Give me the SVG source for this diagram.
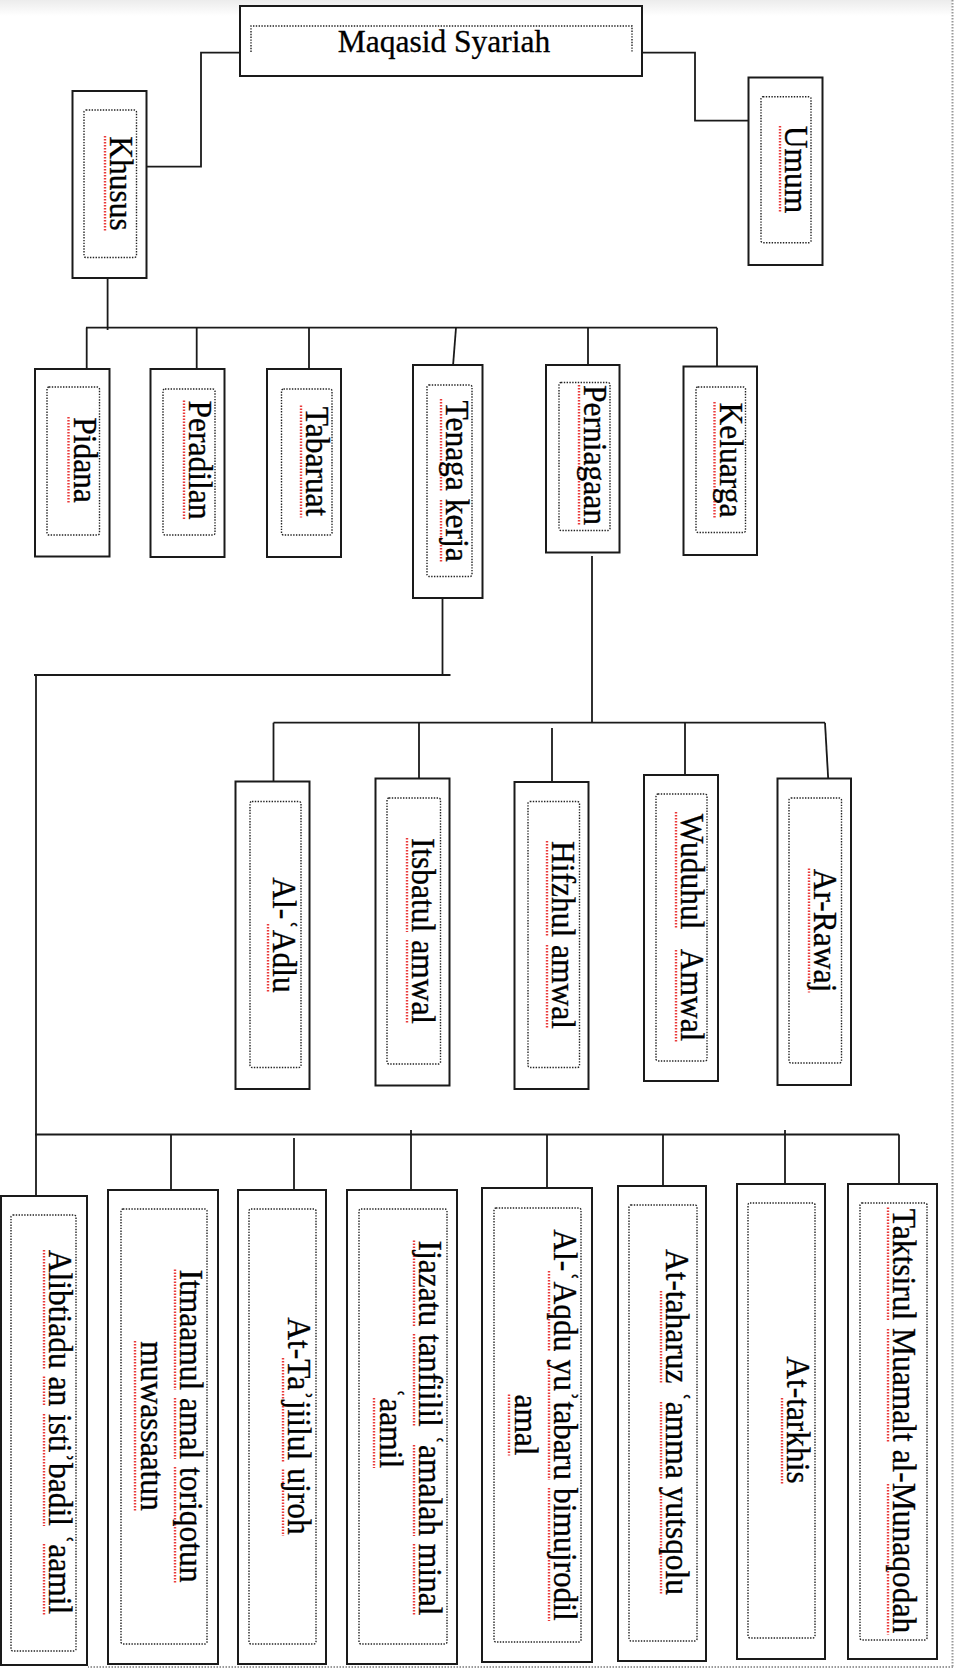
<svg xmlns="http://www.w3.org/2000/svg" width="964" height="1669" viewBox="0 0 964 1669">
<style>
.box{fill:#fff;stroke:#1a1a1a;stroke-width:2}
.inner{fill:none;stroke:#222;stroke-width:1.4;stroke-dasharray:1.4 1.4}
.lbl{font-family:"Liberation Serif","Times New Roman",serif;font-size:31.5px;fill:#000;stroke:#000;stroke-width:0.3}
.v{text-anchor:middle}
.conn{fill:none;stroke:#1a1a1a;stroke-width:1.8}
.page{fill:none;stroke:#999;stroke-width:2;stroke-dasharray:1.5 1.5}
.sq{fill:none;stroke:#ea3b3b;stroke-width:2.4;stroke-dasharray:1.6 1.4}
</style>
<defs>
<linearGradient id="topShade" x1="0" y1="0" x2="0" y2="1">
<stop offset="0" stop-color="#ececec"/>
<stop offset="1" stop-color="#ffffff"/>
</linearGradient>
</defs>
<rect x="0" y="0" width="964" height="1669" fill="#fff"/>
<rect x="0" y="0" width="952" height="16" fill="url(#topShade)"/>
<g id="page-border">
<path class="page" d="M952.5,0 V1667 M953,1667 H88"/>
</g>
<g id="connectors">
<path class="conn" d="M259,52.7 H201 V166.7 H146.5"/>
<path class="conn" d="M642,52.7 H695 V120.7 H748.5"/>
<path class="conn" d="M107.6,278 V330"/>
<path class="conn" d="M86,327.7 H717"/>
<path class="conn" d="M86.7,327.7 V369"/>
<path class="conn" d="M196.7,327.7 V369"/>
<path class="conn" d="M309,327.7 V369"/>
<path class="conn" d="M456,327.7 L453,366"/>
<path class="conn" d="M588,327.7 V365"/>
<path class="conn" d="M717,327.7 V366.5"/>
<path class="conn" d="M442.5,598 V675"/>
<path class="conn" d="M450.5,675 H34"/>
<path class="conn" d="M36,675 V1196"/>
<path class="conn" d="M592,556 V722.7"/>
<path class="conn" d="M273.5,722.7 H825"/>
<path class="conn" d="M273.5,722.7 V781.5"/>
<path class="conn" d="M419,722.7 V785"/>
<path class="conn" d="M552,728 V782"/>
<path class="conn" d="M685,722.7 V784"/>
<path class="conn" d="M825,722.7 L828.5,784"/>
<path class="conn" d="M35,1134.5 H899"/>
<path class="conn" d="M171,1134.5 V1190"/>
<path class="conn" d="M294,1138 V1190"/>
<path class="conn" d="M411,1130 V1190"/>
<path class="conn" d="M547,1134.5 V1188"/>
<path class="conn" d="M663,1134.5 V1186"/>
<path class="conn" d="M785,1130 V1184"/>
<path class="conn" d="M899,1134.5 V1184"/>
</g>
<g id="n-maqasid">
<rect class="box" x="240" y="6" width="402" height="70"/>
<path class="inner" d="M251,52 V26 H632 V52"/>
<text class="lbl" x="444" y="52" text-anchor="middle">Maqasid Syariah</text>
</g>
<g id="n-khusus">
<rect class="box" x="72.5" y="91" width="74" height="187"/>
<rect class="inner" x="84" y="110" width="52.5" height="147.5" rx="2"/>
<path class="sq" d="M105,136 V231"/>
<text class="lbl v" transform="translate(110.3,183.5) rotate(90) scale(1,1.08)">Khusus</text>
</g>
<g id="n-umum">
<rect class="box" x="748.5" y="77.5" width="74" height="187.5"/>
<rect class="inner" x="761" y="96.7" width="50" height="146" rx="2"/>
<path class="sq" d="M780,126 V213"/>
<text class="lbl v" transform="translate(785.3,169.5) rotate(90) scale(1,1.08)">Umum</text>
</g>
<g id="n-pidana">
<rect class="box" x="35" y="369" width="74.5" height="187.5"/>
<rect class="inner" x="47" y="387" width="52.5" height="148" rx="2"/>
<path class="sq" d="M68.5,417 V503"/>
<text class="lbl v" transform="translate(73.8,460) rotate(90) scale(1,1.08)">Pidana</text>
</g>
<g id="n-peradilan">
<rect class="box" x="150.5" y="369" width="74" height="188"/>
<rect class="inner" x="163" y="389" width="52" height="146" rx="2"/>
<path class="sq" d="M184,400.5 V519.5"/>
<text class="lbl v" transform="translate(189.3,460) rotate(90) scale(1,1.08)">Peradilan</text>
</g>
<g id="n-tabaruat">
<rect class="box" x="267" y="369" width="74" height="188"/>
<rect class="inner" x="281.5" y="389" width="50.5" height="146" rx="2"/>
<path class="sq" d="M301,405.5 V517.5"/>
<text class="lbl v" transform="translate(306.3,461.5) rotate(90) scale(1,1.08)">Tabaruat</text>
</g>
<g id="n-tenaga-kerja">
<rect class="box" x="413" y="365" width="69.5" height="233"/>
<rect class="inner" x="427" y="385" width="45" height="191.5" rx="2"/>
<path class="sq" d="M441,399 V492 M441,500 V563"/>
<text class="lbl v" transform="translate(446.3,481) rotate(90) scale(1,1.08)">Tenaga kerja</text>
</g>
<g id="n-perniagaan">
<rect class="box" x="546" y="365" width="73.5" height="187.5"/>
<rect class="inner" x="559" y="382.5" width="51" height="148" rx="2"/>
<path class="sq" d="M579,385 V525"/>
<text class="lbl v" transform="translate(584.3,455) rotate(90) scale(1,1.08)">Perniagaan</text>
</g>
<g id="n-keluarga">
<rect class="box" x="683.5" y="366.5" width="73.5" height="188.5"/>
<rect class="inner" x="696" y="387" width="49.5" height="145.5" rx="2"/>
<path class="sq" d="M714.5,402 V518"/>
<text class="lbl v" transform="translate(719.8,460) rotate(90) scale(1,1.08)">Keluarga</text>
</g>
<g id="n-al-adlu">
<rect class="box" x="235.5" y="781.5" width="74" height="307.5"/>
<rect class="inner" x="250" y="801.5" width="51" height="266" rx="2"/>
<path class="sq" d="M268,924 V993"/>
<text class="lbl v" transform="translate(273.3,935) rotate(90) scale(1,1.08)">Al-ʿAdlu</text>
</g>
<g id="n-itsbatul-amwal">
<rect class="box" x="375.5" y="778.5" width="74" height="307"/>
<rect class="inner" x="387" y="798" width="53.5" height="266" rx="2"/>
<path class="sq" d="M407,838 V932 M407,940 V1024"/>
<text class="lbl v" transform="translate(412.3,931) rotate(90) scale(1,1.08)">Itsbatul amwal</text>
</g>
<g id="n-hifzhul-amwal">
<rect class="box" x="514.5" y="782" width="74" height="307"/>
<rect class="inner" x="528" y="801.5" width="51.5" height="266" rx="2"/>
<path class="sq" d="M547,841 V937 M547,945 V1029"/>
<text class="lbl v" transform="translate(552.3,935) rotate(90) scale(1,1.08)">Hifzhul amwal</text>
</g>
<g id="n-wuduhul-amwal">
<rect class="box" x="644" y="775" width="74" height="306"/>
<rect class="inner" x="656" y="794" width="51" height="267" rx="2"/>
<path class="sq" d="M676,812 V929 M676,950 V1043"/>
<text class="lbl v" transform="translate(681.3,927.5) rotate(90) scale(1,1.08)" style="word-spacing:13px">Wuduhul Amwal</text>
</g>
<g id="n-ar-rawaj">
<rect class="box" x="777.5" y="778.5" width="73.5" height="306.5"/>
<rect class="inner" x="789" y="798" width="52.5" height="265" rx="2"/>
<path class="sq" d="M809,868.5 V992.5"/>
<text class="lbl v" transform="translate(814.3,930.5) rotate(90) scale(1,1.08)">Ar-Rawaj</text>
</g>
<g id="n-alibtiadu">
<rect class="box" x="1" y="1196" width="86" height="469"/>
<rect class="inner" x="11" y="1215" width="65" height="436" rx="2"/>
<path class="sq" d="M44,1250 V1368.5 M44,1376.5 V1406 M44,1414 V1526 M44,1544 V1614.5"/>
<text class="lbl v" transform="translate(49.3,1432) rotate(90) scale(1,1.08)">Alibtiadu an istiʾbadil ʿaamil</text>
</g>
<g id="n-itmaamul">
<rect class="box" x="108" y="1190" width="110" height="474"/>
<rect class="inner" x="121" y="1209" width="86" height="435" rx="2"/>
<path class="sq" d="M175,1269.5 V1390 M175,1398 V1459 M175,1467 V1582.5 M135,1341 V1511"/>
<text class="lbl v" transform="translate(180.3,1426) rotate(90) scale(1,1.08)"><tspan x="0" y="0">Itmaamul amal toriqotun</tspan><tspan x="0" y="36">muwassaatun</tspan></text>
</g>
<g id="n-at-tajiilul">
<rect class="box" x="238" y="1190" width="88" height="474"/>
<rect class="inner" x="249" y="1209" width="67" height="435" rx="2"/>
<path class="sq" d="M283,1358 V1461.5 M283,1469.5 V1536"/>
<text class="lbl v" transform="translate(288.3,1426) rotate(90) scale(1,1.08)">At-Taʾjiilul ujroh</text>
</g>
<g id="n-ijazatu">
<rect class="box" x="347" y="1190" width="110" height="474"/>
<rect class="inner" x="359" y="1209" width="88" height="435" rx="2"/>
<path class="sq" d="M414,1240.5 V1326 M414,1334 V1426.5 M414,1445 V1536 M414,1544 V1616 M374,1398 V1468"/>
<text class="lbl v" transform="translate(419.3,1428) rotate(90) scale(1,1.08)"><tspan x="0" y="0">Ijazatu tanfiilil ʿamalah minal</tspan><tspan x="0" y="36">ʿaamil</tspan></text>
</g>
<g id="n-al-aqdu">
<rect class="box" x="482" y="1188" width="110" height="474"/>
<rect class="inner" x="494" y="1208" width="87" height="434" rx="2"/>
<path class="sq" d="M549,1271 V1351.5 M549,1359.5 V1480 M549,1488 V1621 M509,1394.5 V1455.5"/>
<text class="lbl v" transform="translate(554.3,1425) rotate(90) scale(1,1.08)"><tspan x="0" y="0">Al-ʿAqdu yuʾtabaru bimujrodil</tspan><tspan x="0" y="36">amal</tspan></text>
</g>
<g id="n-at-taharuz">
<rect class="box" x="618" y="1186" width="88" height="475"/>
<rect class="inner" x="629" y="1205" width="68" height="436" rx="2"/>
<path class="sq" d="M661,1291 V1383.5 M661,1402 V1479 M661,1487 V1595"/>
<text class="lbl v" transform="translate(666.3,1422) rotate(90) scale(1,1.08)">At-taharuz ʿamma yutsqolu</text>
</g>
<g id="n-at-tarkhis">
<rect class="box" x="737" y="1184" width="88" height="475"/>
<rect class="inner" x="748" y="1203" width="67" height="435" rx="2"/>
<path class="sq" d="M782,1398 V1484"/>
<text class="lbl v" transform="translate(787.3,1420) rotate(90) scale(1,1.08)">At-tarkhis</text>
</g>
<g id="n-taktsirul">
<rect class="box" x="848" y="1184" width="89" height="475"/>
<rect class="inner" x="860" y="1203" width="67" height="437" rx="2"/>
<path class="sq" d="M888,1207.5 V1321 M888,1329 V1443 M888,1484 V1634.5"/>
<text class="lbl v" transform="translate(893.3,1421) rotate(90) scale(1,1.08)">Taktsirul Muamalt al-Munaqodah</text>
</g>
</svg>
